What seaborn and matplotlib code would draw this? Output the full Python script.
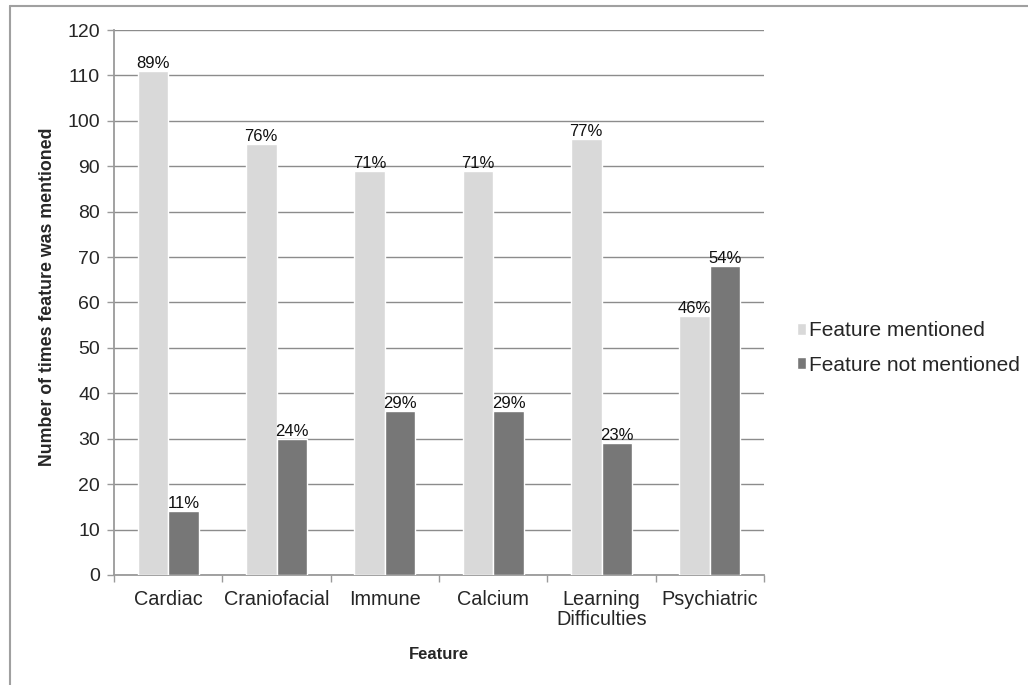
import numpy as np
import pandas as pd
import seaborn as sns
import matplotlib.pyplot as plt
from matplotlib.lines import Line2D

features = ["Cardiac", "Craniofacial", "Immune", "Calcium", "Learning\nDifficulties", "Psychiatric"]
mentioned = [111, 95, 89, 89, 96, 57]
not_mentioned = [14, 30, 36, 36, 29, 68]
pct_mentioned = ["89%", "76%", "71%", "71%", "77%", "46%"]
pct_not_mentioned = ["11%", "24%", "29%", "29%", "23%", "54%"]
series = ["Feature mentioned", "Feature not mentioned"]
y_ticks = list(range(0, 121, 10))

df = pd.DataFrame({
    "Feature": features * 2,
    "Count": mentioned + not_mentioned,
    "Series": [series[0]] * len(features) + [series[1]] * len(features),
})

sns.set_style("white")
plt.rcParams['font.family'] = ['Liberation Sans', 'DejaVu Sans']

fig = plt.figure(figsize=(10.28, 6.85), dpi=100)
ax = fig.add_axes([0.1109, 0.1606, 0.6323, 0.7956])

sns.barplot(data=df, x="Feature", y="Count", hue="Series", order=features,
            hue_order=series, palette=["#d9d9d9", "#777777"],
            width=0.565, gap=0, saturation=1, ax=ax, zorder=3)

# percentage labels over the bars
for cont, labels in zip(ax.containers, [pct_mentioned, pct_not_mentioned]):
    ax.bar_label(cont, labels=labels, fontsize=12, padding=0, color="#111111")

ax.set_ylim(0, 120)
ax.set_xlim(-0.5, len(features) - 0.5)
ax.set_yticks(y_ticks)
ax.yaxis.grid(True, color="#8c8c8c", linewidth=1.0, zorder=0)
ax.set_axisbelow(True)

for s in ["top", "right"]:
    ax.spines[s].set_visible(False)
ax.spines["left"].set_color("#9a9a9a")
ax.spines["bottom"].set_color("#9a9a9a")
ax.spines["left"].set_linewidth(1.3)
ax.spines["bottom"].set_linewidth(1.3)

ax.tick_params(axis="y", direction="out", length=5, width=1, color="#9a9a9a",
               labelsize=14, pad=5, left=True)
ax.tick_params(axis="x", which="major", length=0, labelsize=14.3, pad=11)
for lbl in ax.get_xticklabels():
    lbl.set_linespacing(1.05)
# small ticks between the categories
ax.set_xticks(np.arange(-0.5, len(features)), minor=True)
ax.tick_params(axis="x", which="minor", direction="out", length=5, width=1,
               color="#9a9a9a", bottom=True)

ax.set_xlabel("Feature", fontsize=12, fontweight="bold", labelpad=13)
ax.set_ylabel("Number of times feature was mentioned", fontsize=12.8,
              fontweight="bold", labelpad=8)
ax.yaxis.label.set_y(0.51)

ax.legend(loc="center left", bbox_to_anchor=(0.775, 0.492),
          bbox_transform=fig.transFigure, frameon=False, fontsize=15,
          handlelength=0.45, handleheight=0.5, handletextpad=0.15,
          labelspacing=0.75, borderpad=0, borderaxespad=0, title=None)

# outer frame (top and left edges visible in the reference)
fig.add_artist(Line2D([0.0097, 1.0], [0.9912, 0.9912], color="#a0a0a0", linewidth=1.5))
fig.add_artist(Line2D([0.0097, 0.0097], [0.0, 0.9912], color="#a0a0a0", linewidth=1.5))

fig.savefig("out.png", dpi=100)
